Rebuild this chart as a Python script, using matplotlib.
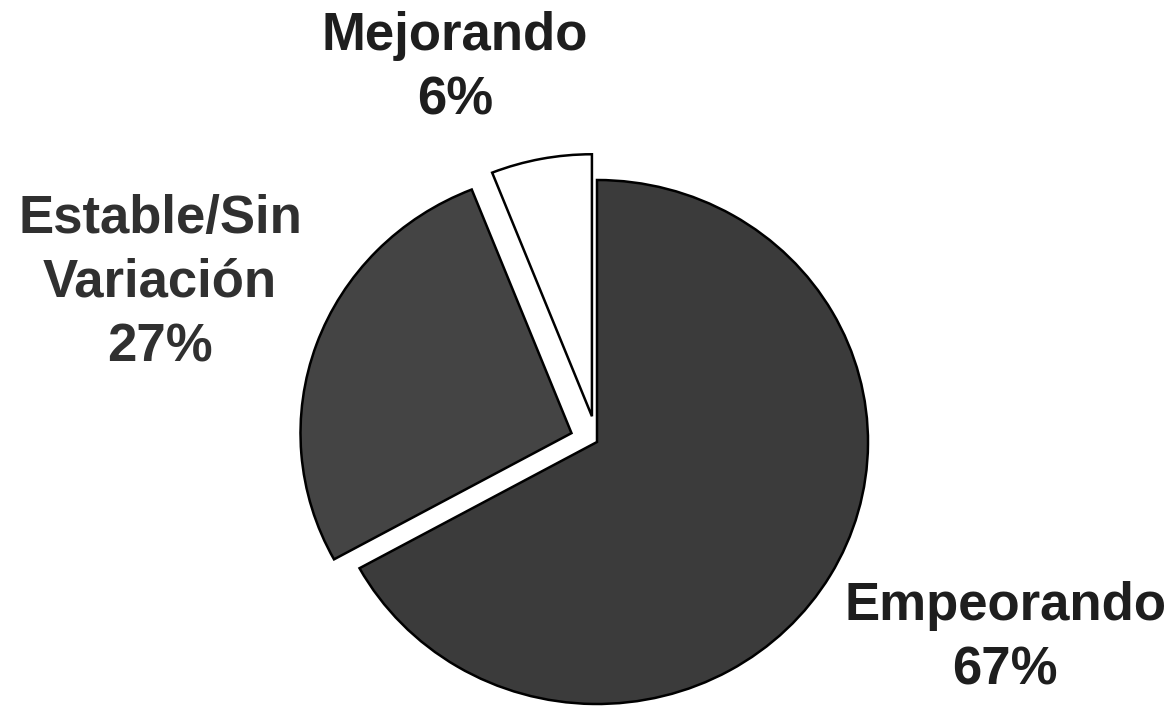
import matplotlib.pyplot as plt

# Datos del grafico
categorias = ["Empeorando", "Estable/Sin\nVariación", "Mejorando"]
valores = [67, 27, 6]
separacion = [0.0, 0.1, 0.1]
colores = ["#3b3b3b", "#444444", "#ffffff"]

fig = plt.figure(figsize=(11.71, 7.11), dpi=100)
ax = fig.add_axes([0, 0, 1, 1])

# el escaneo deja el pie un poco ancho: escala distinta en x y en y
cx, cy = 597.0, 442.0
sx, sy = 271.0, 262.0

def a_datos(px, py):
    return (px - cx) / sx, (cy - py) / sy

etiquetas = [f"{c}\n{v}%" for c, v in zip(categorias, valores)]
wedges, texts = ax.pie(valores, labels=etiquetas, explode=separacion,
                       colors=colores, startangle=90, counterclock=False,
                       wedgeprops=dict(edgecolor="black", linewidth=1.8),
                       textprops=dict(family="Liberation Sans", fontweight="bold",
                                      fontsize=38, color="#1e1e1e",
                                      linespacing=1.36))

# posiciones de las etiquetas en px de la imagen
pos_px = [(1005, 638), (160, 283), (455, 68)]
for t, (px, py) in zip(texts, pos_px):
    t.set_position(a_datos(px, py))
    t.set_ha("center")
    t.set_va("center")
texts[1].set_color("#303030")

ax.set_xlim(-cx / sx, (1171 - cx) / sx)
ax.set_ylim(-(711 - cy) / sy, cy / sy)
ax.set_aspect("auto")
ax.axis("off")

fig.savefig("out.png", dpi=100, facecolor="white")
